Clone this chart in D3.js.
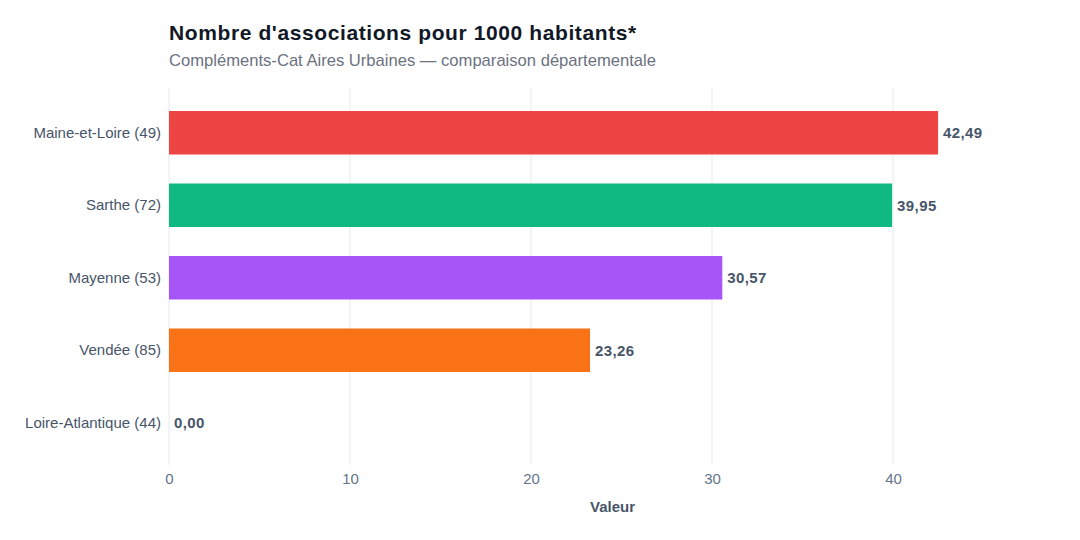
<!DOCTYPE html>
<html>
<head>
<meta charset="utf-8">
<script src="https://cdn.jsdelivr.net/npm/d3@7"></script>
<style>
  body { margin: 0; background: #fff; }
  svg { font-family: "Liberation Sans", Arial, sans-serif; }
</style>
</head>
<body>
<svg id="chart" width="1080" height="540"></svg>
<script>
const departements = ["Maine-et-Loire (49)", "Sarthe (72)", "Mayenne (53)", "Vendée (85)", "Loire-Atlantique (44)"];
const valeurs = [42.49, 39.95, 30.57, 23.26, 0.00];
const couleurs = ["#ef4444", "#10b981", "#a855f7", "#f97316", "#3b82f6"];
const ticks = [0, 10, 20, 30, 40];

const data = departements.map((d, i) => ({ dep: d, val: valeurs[i], color: couleurs[i] }));

const svg = d3.select("#chart");
const plotLeft = 169, plotTop = 88, plotBottom = 465;

const x = d3.scaleLinear()
  .domain([0, 40])
  .range([plotLeft, 893]);

const y = d3.scaleBand()
  .domain(departements)
  .range([96.5, 459])
  .paddingInner(0.4)
  .paddingOuter(0.2);

// grille
svg.append("g")
  .selectAll("line")
  .data(ticks)
  .enter().append("line")
  .attr("x1", d => x(d))
  .attr("x2", d => x(d))
  .attr("y1", plotTop)
  .attr("y2", plotBottom)
  .attr("stroke", "#eef0f4")
  .attr("stroke-width", 1.5);

// barres
svg.append("g")
  .selectAll("rect")
  .data(data)
  .enter().append("rect")
  .attr("x", x(0))
  .attr("y", d => y(d.dep))
  .attr("width", d => x(d.val) - x(0))
  .attr("height", y.bandwidth())
  .attr("fill", d => d.color);

// valeurs
svg.append("g")
  .selectAll("text")
  .data(data)
  .enter().append("text")
  .attr("x", d => x(d.val) + 5)
  .attr("y", d => y(d.dep) + y.bandwidth() / 2)
  .attr("dy", "0.35em")
  .attr("fill", "#475569")
  .style("font-size", "15px")
  .style("font-weight", "bold")
  .style("letter-spacing", "0.4px")
  .text(d => d.val.toFixed(2).replace(".", ","));

// axe y
const yAxis = svg.append("g")
  .attr("transform", `translate(${plotLeft},0)`)
  .call(d3.axisLeft(y).tickSize(0).tickPadding(8));
yAxis.select(".domain").remove();
yAxis.selectAll("text")
  .attr("fill", "#475569")
  .style("font-size", "15px");

// axe x
const xAxis = svg.append("g")
  .attr("transform", `translate(0,${plotBottom})`)
  .call(d3.axisBottom(x).tickValues(ticks).tickSize(0).tickPadding(8));
xAxis.select(".domain").remove();
xAxis.selectAll("text")
  .attr("fill", "#64748b")
  .style("font-size", "15px");

svg.append("text")
  .attr("x", (x(0) + 1056) / 2)
  .attr("y", 512)
  .attr("text-anchor", "middle")
  .attr("fill", "#475569")
  .style("font-size", "15px")
  .style("font-weight", "bold")
  .text("Valeur");

svg.append("text")
  .attr("x", 169)
  .attr("y", 40)
  .attr("fill", "#111827")
  .style("font-size", "21px")
  .style("font-weight", "bold")
  .style("letter-spacing", "0.6px")
  .text("Nombre d'associations pour 1000 habitants*");

svg.append("text")
  .attr("x", 169)
  .attr("y", 66)
  .attr("fill", "#6b7280")
  .style("font-size", "16.6px")
  .text("Compléments-Cat Aires Urbaines — comparaison départementale");
</script>
</body>
</html>
